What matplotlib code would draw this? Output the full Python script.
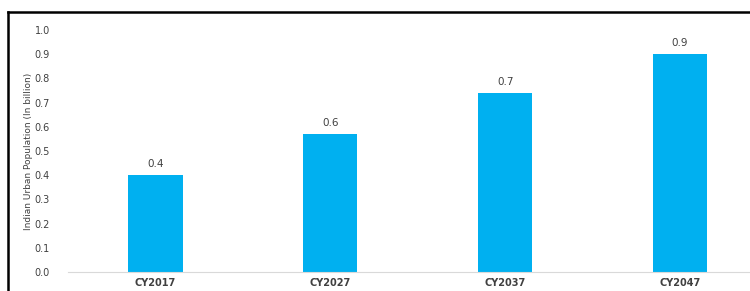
import matplotlib
matplotlib.use('Agg')
import matplotlib.pyplot as plt
from matplotlib.lines import Line2D

years = ['CY2017', 'CY2027', 'CY2037', 'CY2047']
urban_pop = [0.40, 0.57, 0.74, 0.90]
bar_labels = ['0.4', '0.6', '0.7', '0.9']
yticks = [0.0, 0.1, 0.2, 0.3, 0.4, 0.5, 0.6, 0.7, 0.8, 0.9, 1.0]

fig = plt.figure(figsize=(7.5, 2.91), dpi=100)
ax = fig.add_axes([68/750, 1 - 272/291, 1 - 68/750, (272 - 30)/291])

x = range(len(years))
bars = ax.bar(x, urban_pop, width=0.31, color='#00b0f0')
for b, lab in zip(bars, bar_labels):
    ax.text(b.get_x() + b.get_width()/2, b.get_height() + 0.025, lab,
            ha='center', va='bottom', fontsize=7.5, color='#404040')

ax.set_xlim(-0.5, 3.4)
ax.set_ylim(0, 1.0)
ax.set_yticks(yticks)
ax.set_yticklabels(['%.1f' % v for v in yticks], fontsize=7, color='#404040')
ax.set_xticks(list(x))
ax.set_xticklabels(years, fontsize=7, fontweight='bold', color='#404040')
ax.tick_params(length=0, pad=4)
ax.tick_params(axis='y', pad=13)

for s in ['top', 'right', 'left']:
    ax.spines[s].set_visible(False)
ax.spines['bottom'].set_color('#d9d9d9')
ax.spines['bottom'].set_linewidth(0.8)

ax.set_ylabel('Indian Urban Population (In billion)', fontsize=6.5,
              family=['Liberation Sans Narrow', 'DejaVu Sans'], color='#404040',
              labelpad=1)

# outer frame of the screenshot
fig.add_artist(Line2D([8/750, 1], [1 - 12/291, 1 - 12/291], color='black', lw=1.8))
fig.add_artist(Line2D([8/750, 8/750], [0, 1 - 12/291], color='black', lw=1.8))

fig.savefig('out.png', dpi=100)
